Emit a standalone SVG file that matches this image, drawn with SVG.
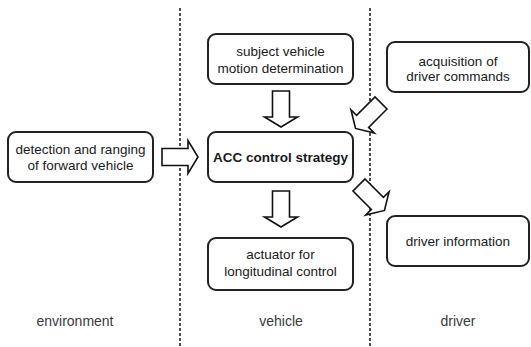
<svg xmlns="http://www.w3.org/2000/svg" width="531" height="347" viewBox="0 0 531 347">
<defs>
<style>
.box{fill:#fff;stroke:#222;stroke-width:2}
.t{font-family:"Liberation Sans",Arial,Helvetica,sans-serif;font-size:13.5px;fill:#1a1a1a;text-anchor:middle}
.b{font-weight:bold}
.lbl{font-family:"Liberation Sans",Arial,Helvetica,sans-serif;font-size:14px;fill:#3a3a3a;text-anchor:middle}
.div{stroke:#222;stroke-width:1.6;stroke-dasharray:3 2;fill:none}
.arr{fill:#fff;stroke:#111;stroke-width:1.6;stroke-linejoin:miter}
</style>
<path id="ba" d="M0,-8.5 L26,-8.5 L26,-16.5 L36,0 L26,16.5 L26,8.5 L0,8.5 Z"/>
</defs>
<rect width="531" height="347" fill="#fff"/>
<g id="dividers">
<line class="div" x1="180" y1="8" x2="180" y2="347"/>
<line class="div" x1="370" y1="8" x2="370" y2="347"/>
</g>
<g id="connectors">
<use href="#ba" class="arr" transform="translate(162,157)"/>
<use href="#ba" class="arr" transform="translate(281,91) rotate(90)"/>
<use href="#ba" class="arr" transform="translate(281,191) rotate(90)"/>
<use href="#ba" class="arr" transform="translate(381,103) rotate(135)"/>
<use href="#ba" class="arr" transform="translate(359,185) rotate(45)"/>
</g>
<g id="detection">
<rect class="box" x="8" y="132" width="145" height="50" rx="8"/>
<text class="t" x="80.5" y="154">detection and ranging</text>
<text class="t" x="80.5" y="170">of forward vehicle</text>
</g>
<g id="subject">
<rect class="box" x="208" y="34" width="145" height="50" rx="8"/>
<text class="t" x="280.5" y="56">subject vehicle</text>
<text class="t" x="280.5" y="73">motion determination</text>
</g>
<g id="acquisition">
<rect class="box" x="387" y="42" width="142" height="50" rx="8"/>
<text class="t" x="458" y="66">acquisition of</text>
<text class="t" x="458" y="81">driver commands</text>
</g>
<g id="acc">
<rect class="box" x="208" y="132" width="145" height="50" rx="8"/>
<text class="t b" x="280.5" y="162">ACC control strategy</text>
</g>
<g id="actuator">
<rect class="box" x="208" y="238" width="145" height="52" rx="8"/>
<text class="t" x="280.5" y="259">actuator for</text>
<text class="t" x="280.5" y="276">longitudinal control</text>
</g>
<g id="driverinfo">
<rect class="box" x="387" y="216" width="142" height="50" rx="8"/>
<text class="t" x="458" y="246">driver information</text>
</g>
<g id="labels">
<text class="lbl" x="75" y="326">environment</text>
<text class="lbl" x="281" y="326">vehicle</text>
<text class="lbl" x="458" y="326">driver</text>
</g>
</svg>
